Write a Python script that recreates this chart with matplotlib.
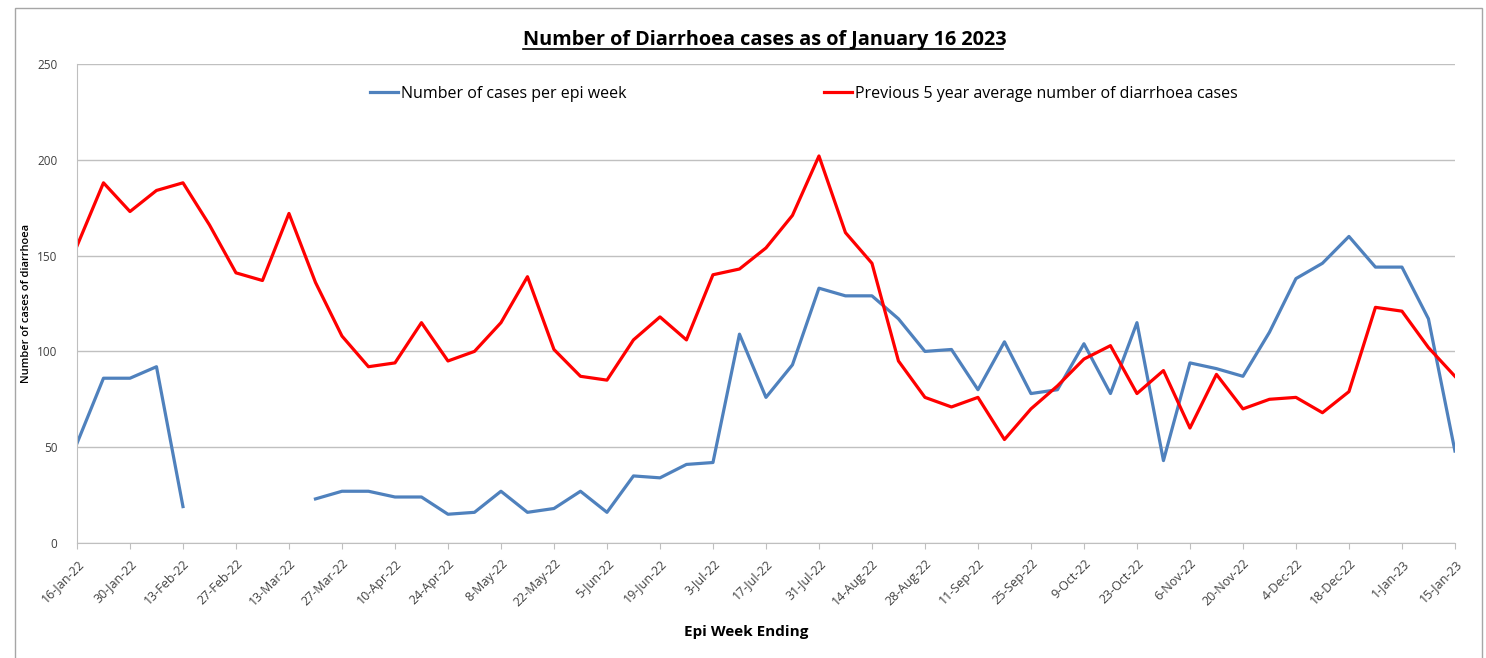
import numpy as np
import pandas as pd
import matplotlib
matplotlib.use("Agg")
import matplotlib.pyplot as plt
from matplotlib.patches import Rectangle
from matplotlib.transforms import ScaledTranslation

# epi weeks ending 16-Jan-22 .. 15-Jan-23
weeks = pd.date_range("2022-01-16", "2023-01-15", freq="7D")

cases = [52, 86, 86, 92, 19, np.nan, np.nan, np.nan, np.nan, 23,
         27, 27, 24, 24, 15, 16, 27, 16, 18, 27,
         16, 35, 34, 41, 42, 109, 76, 93, 133, 129,
         129, 117, 100, 101, 80, 105, 78, 80, 104, 78,
         115, 43, 94, 91, 87, 110, 138, 146, 160, 144,
         144, 117, 48]

avg5yr = [155, 188, 173, 184, 188, 166, 141, 137, 172, 136,
          108, 92, 94, 115, 95, 100, 115, 139, 101, 87,
          85, 106, 118, 106, 140, 143, 154, 171, 202, 162,
          146, 95, 76, 71, 76, 54, 70, 82, 96, 103,
          78, 90, 60, 88, 70, 75, 76, 68, 79, 123,
          121, 102, 87]

tick_labels = ["16-Jan-22", "30-Jan-22", "13-Feb-22", "27-Feb-22", "13-Mar-22",
               "27-Mar-22", "10-Apr-22", "24-Apr-22", "8-May-22", "22-May-22",
               "5-Jun-22", "19-Jun-22", "3-Jul-22", "17-Jul-22", "31-Jul-22",
               "14-Aug-22", "28-Aug-22", "11-Sep-22", "25-Sep-22", "9-Oct-22",
               "23-Oct-22", "6-Nov-22", "20-Nov-22", "4-Dec-22", "18-Dec-22",
               "1-Jan-23", "15-Jan-23"]

plt.rcParams["font.family"] = ["Open Sans", "DejaVu Sans"]

fig = plt.figure(figsize=(14.86, 6.58), dpi=100)
ax = fig.add_axes([0.0518, 0.1748, 0.9273, 0.7279])

x = np.arange(len(weeks))
ax.plot(x, cases, color="#4F81BD", lw=2.3, label="Number of cases per epi week")
ax.plot(x, avg5yr, color="#FF0000", lw=2.3,
        label="Previous 5 year average number of diarrhoea cases")

ax.set_xlim(0, len(weeks) - 1)
ax.set_ylim(0, 250)
ax.set_yticks(range(0, 251, 50))
ax.set_xticks(x[::2])
ax.set_xticklabels(tick_labels, rotation=45, ha="right", rotation_mode="anchor",
                   fontsize=9, color="#404040")
# nudge rotated labels a little right, like Excel does
shift = ScaledTranslation(4 / 72, 0, fig.dpi_scale_trans)
for lab in ax.get_xticklabels():
    lab.set_transform(lab.get_transform() + shift)
ax.tick_params(axis="y", length=0, labelsize=8.5, labelcolor="#404040", pad=14)
ax.tick_params(axis="x", length=4, color="#BFBFBF", pad=6)

ax.grid(axis="y", color="#C0C0C0", lw=1)
ax.set_axisbelow(True)
for s in ["top", "right"]:
    ax.spines[s].set_visible(False)
for s in ["left", "bottom"]:
    ax.spines[s].set_color("#BFBFBF")

ax.set_ylabel("Number of cases of diarrhoea", fontsize=8, fontweight="semibold")
ax.yaxis.set_label_coords(-0.0327, 0.5)
ax.set_xlabel("Epi Week Ending", fontsize=11, fontweight="bold")
ax.xaxis.set_label_coords(0.486, -0.172)

fig.text(0.5145, 1 - 45 / 658, "Number of Diarrhoea cases as of January 16 2023",
         ha="center", va="baseline", fontsize=14.3, fontweight="bold")
# underline for title
fig.add_artist(plt.Line2D([0.352, 0.675], [1 - 49 / 658] * 2, color="black", lw=1.2))

ax.legend(loc="upper center", bbox_to_anchor=(0.5276, 0.985), ncol=2, frameon=False,
          fontsize=11.5, handlelength=1.7, handletextpad=0.2, columnspacing=12.4)

fig.add_artist(Rectangle((0.0101, -0.01), 0.987, 0.998, transform=fig.transFigure,
                         fill=False, edgecolor="#A6A6A6", lw=1))

fig.savefig("out.png", dpi=100)
